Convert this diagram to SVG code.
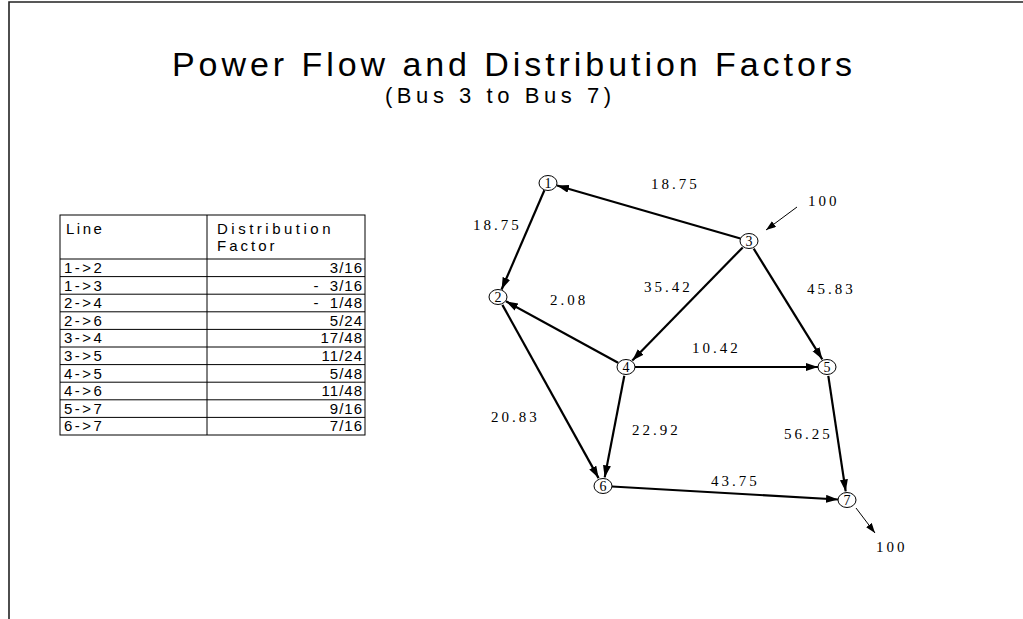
<svg xmlns="http://www.w3.org/2000/svg" width="1023" height="619" viewBox="0 0 1023 619">
<style>
.title{font-family:"Liberation Sans",Arial,sans-serif;fill:#000}
.tbl{font-family:"Liberation Sans",Arial,sans-serif;font-size:15px;letter-spacing:2.5px;fill:#000}
.val{font-family:"Liberation Sans",Arial,sans-serif;font-size:15px;letter-spacing:1px;fill:#000;text-anchor:end}
.grid{stroke:#000;stroke-width:1;fill:none}
.node ellipse{fill:#fff;stroke:#000;stroke-width:1}
.node text{font-family:"Liberation Serif","Times New Roman",serif;font-size:14px;text-anchor:middle;fill:#000}
.edge{stroke:#000;stroke-width:2.2;fill:none;marker-end:url(#ah)}
.thin{stroke:#000;stroke-width:1;fill:none;marker-end:url(#ahs)}
.lbl{font-family:"Liberation Serif","Times New Roman",serif;font-size:15px;letter-spacing:3px;fill:#000}
</style>
<defs>
<marker id="ah" markerUnits="userSpaceOnUse" markerWidth="13" markerHeight="9" refX="12" refY="4" orient="auto"><path d="M0,0 L12,4 L0,8 z" fill="#000"/></marker>
<marker id="ahs" markerUnits="userSpaceOnUse" markerWidth="11" markerHeight="8" refX="10" refY="3.5" orient="auto"><path d="M0,0 L10,3.5 L0,7 z" fill="#000"/></marker>
</defs>
<rect width="1023" height="619" fill="#fff"/>
<g id="frame">
<path d="M9,619 V2 H1023" stroke="#222" stroke-width="1.6" fill="none"/>
</g>
<g id="titles">
<text class="title" x="512" y="76" font-size="34" text-anchor="middle" textLength="680" lengthAdjust="spacing">Power Flow and Distribution Factors</text>
<text class="title" x="498" y="103" font-size="22" text-anchor="middle" textLength="226" lengthAdjust="spacing">(Bus 3 to Bus 7)</text>
</g>
<g id="table">
<rect class="grid" x="60" y="215" width="305" height="220"/>
<line class="grid" x1="207" y1="215" x2="207" y2="435"/>
<path class="grid" d="M60,259H365M60,276.6H365M60,294.2H365M60,311.8H365M60,329.4H365M60,347H365M60,364.6H365M60,382.2H365M60,399.8H365M60,417.4H365"/>
<text class="tbl" x="66" y="234">Line</text>
<text class="tbl" x="217" y="234" style="letter-spacing:3.5px">Distribution</text>
<text class="tbl" x="217" y="251" style="letter-spacing:3px">Factor</text>
<g class="tbl">
<text x="64" y="273">1-&gt;2</text>
<text x="64" y="290.6">1-&gt;3</text>
<text x="64" y="308.2">2-&gt;4</text>
<text x="64" y="325.8">2-&gt;6</text>
<text x="64" y="343.4">3-&gt;4</text>
<text x="64" y="361">3-&gt;5</text>
<text x="64" y="378.6">4-&gt;5</text>
<text x="64" y="396.2">4-&gt;6</text>
<text x="64" y="413.8">5-&gt;7</text>
<text x="64" y="431.4">6-&gt;7</text>
</g>
<g class="val">
<text x="363" y="273">3/16</text>
<text x="363" y="290.6">-&#160;&#160;3/16</text>
<text x="363" y="308.2">-&#160;&#160;1/48</text>
<text x="363" y="325.8">5/24</text>
<text x="363" y="343.4">17/48</text>
<text x="363" y="361">11/24</text>
<text x="363" y="378.6">5/48</text>
<text x="363" y="396.2">11/48</text>
<text x="363" y="413.8">9/16</text>
<text x="363" y="431.4">7/16</text>
</g>
</g>
<g id="connectors">
<line class="edge" x1="740.4" y1="238.5" x2="557" y2="185.5"/>
<line class="edge" x1="544.4" y1="190.3" x2="501.6" y2="289.5"/>
<line class="edge" x1="618.1" y1="362.7" x2="506" y2="301.3"/>
<line class="edge" x1="742.7" y1="247.4" x2="632.3" y2="360.6"/>
<line class="edge" x1="753.7" y1="248.7" x2="822.3" y2="359.3"/>
<line class="edge" x1="635" y1="367" x2="818" y2="367"/>
<line class="edge" x1="502.4" y1="304.9" x2="598.6" y2="478.1"/>
<line class="edge" x1="624.3" y1="375.8" x2="604.7" y2="477.4"/>
<line class="edge" x1="828.3" y1="375.8" x2="845.7" y2="491.4"/>
<line class="edge" x1="612" y1="486.5" x2="838" y2="499.5"/>
<line class="thin" x1="797" y1="207" x2="766" y2="230"/>
<line class="thin" x1="856" y1="508" x2="875" y2="533"/>
</g>
<g id="labels">
<text class="lbl" x="651" y="189">18.75</text>
<text class="lbl" x="473" y="230">18.75</text>
<text class="lbl" x="550" y="305">2.08</text>
<text class="lbl" x="644" y="292">35.42</text>
<text class="lbl" x="807" y="294">45.83</text>
<text class="lbl" x="692" y="353">10.42</text>
<text class="lbl" x="491" y="422">20.83</text>
<text class="lbl" x="632" y="435">22.92</text>
<text class="lbl" x="784" y="439">56.25</text>
<text class="lbl" x="711" y="486">43.75</text>
<text class="lbl" x="808" y="206">100</text>
<text class="lbl" x="876" y="552">100</text>
</g>
<g id="node1" class="node"><ellipse cx="548" cy="183" rx="9" ry="7.5"/><text x="548" y="188">1</text></g>
<g id="node2" class="node"><ellipse cx="498" cy="297" rx="9" ry="7.5"/><text x="498" y="302">2</text></g>
<g id="node3" class="node"><ellipse cx="749" cy="241" rx="9" ry="7.5"/><text x="749" y="246">3</text></g>
<g id="node4" class="node"><ellipse cx="626" cy="367" rx="9" ry="7.5"/><text x="626" y="372">4</text></g>
<g id="node5" class="node"><ellipse cx="827" cy="367" rx="9" ry="7.5"/><text x="827" y="372">5</text></g>
<g id="node6" class="node"><ellipse cx="603" cy="486" rx="9" ry="7.5"/><text x="603" y="491">6</text></g>
<g id="node7" class="node"><ellipse cx="847" cy="500" rx="9" ry="7.5"/><text x="847" y="505">7</text></g>
</svg>
